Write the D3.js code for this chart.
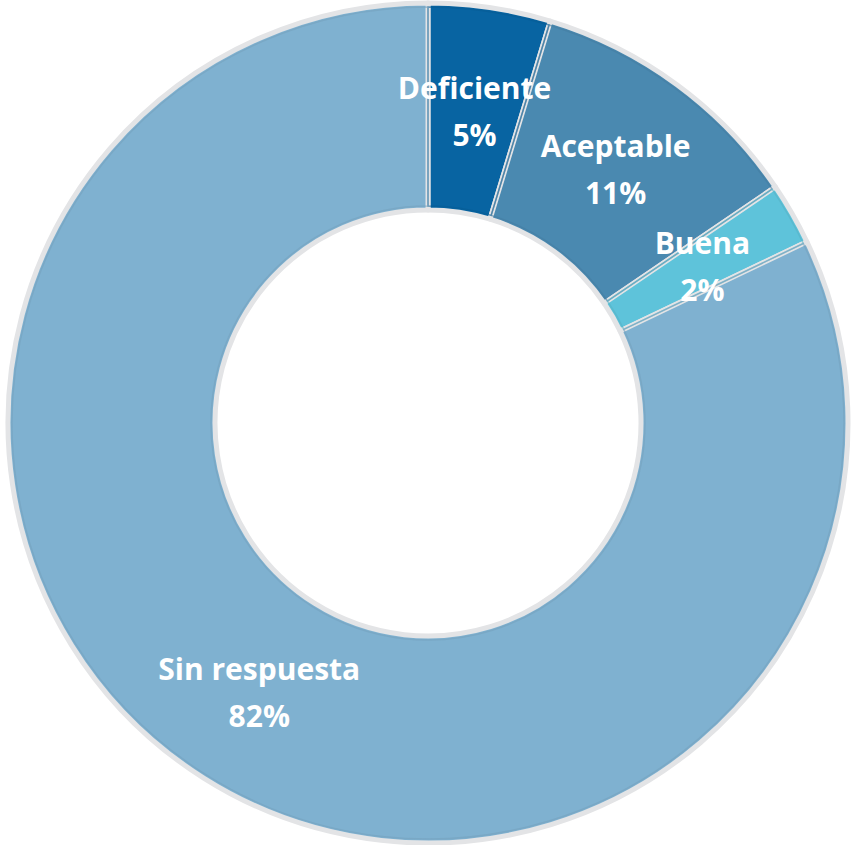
<!DOCTYPE html>
<html><head><meta charset="utf-8">
<script src="https://cdn.jsdelivr.net/npm/d3@7"></script>
<style>html,body{margin:0;padding:0;background:#fff;}svg{display:block;}</style>
</head><body>
<svg id="c" width="853" height="845"></svg>
<script>
const categories = ["Deficiente", "Aceptable", "Buena", "Sin respuesta"];
const values = [4.7, 10.8, 2.4, 82.1];
const labels = ["5%", "11%", "2%", "82%"];
const colors = ["#0864a2", "#4a89b0", "#5ec3da", "#7fb1d0"];

const svg = d3.select("#c");
const cx = 428, cy = 423, R = 420, r = 213;
const g = svg.append("g").attr("transform", `translate(${cx},${cy})`);
const data = categories.map((c, i) => ({c, v: values[i], l: labels[i], col: colors[i]}));
const pie = d3.pie().value(d => d.v).sort(null);
const arc = d3.arc().innerRadius(r).outerRadius(R);
const arcs = pie(data);

g.selectAll("path.s").data(arcs).join("path")
  .attr("class", "s")
  .attr("d", arc)
  .attr("fill", d => d.data.col)
  .attr("stroke", "#e3e4e6")
  .attr("stroke-width", 5)
  .attr("stroke-linejoin", "round");

// subtle darker inner edge
const arcIn = d3.arc().innerRadius(r + 4).outerRadius(R - 4);
g.selectAll("path.e").data(arcs).join("path")
  .attr("class", "e")
  .attr("d", arcIn)
  .attr("fill", "none")
  .attr("stroke", d => d3.color(d.data.col).darker(0.25))
  .attr("stroke-width", 1.5)
  .attr("opacity", 0.6);

const lab = g.selectAll("g.l").data(arcs).join("g")
  .attr("class", "l")
  .attr("transform", d => `translate(${arc.centroid(d)})`);
lab.append("text").attr("text-anchor", "middle").attr("y", -11)
  .attr("font-family", "Open Sans, sans-serif").attr("font-weight", 700)
  .attr("font-size", 30).attr("fill", "#fff")
  .text(d => d.data.c);
lab.append("text").attr("text-anchor", "middle").attr("y", 36)
  .attr("font-family", "Open Sans, sans-serif").attr("font-weight", 700)
  .attr("font-size", 30).attr("fill", "#fff")
  .text(d => d.data.l);
</script>
</body></html>
